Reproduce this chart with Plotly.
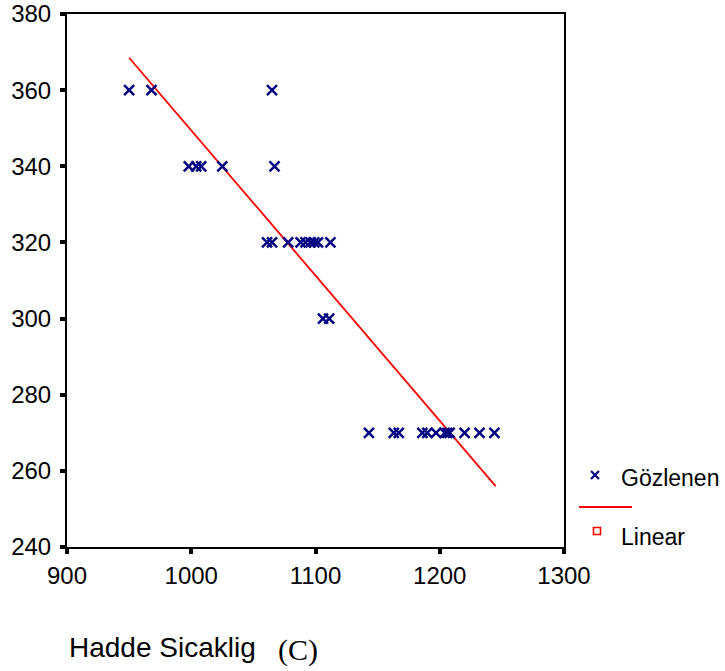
import plotly.graph_objects as go

# Observed data (Gözlenen)
obs_x = [950, 968, 1065,
         998, 1004, 1008, 1025, 1067,
         1061, 1065, 1078, 1088, 1092, 1096, 1099, 1102, 1112,
         1106, 1111,
         1143, 1163, 1167, 1186, 1190, 1197, 1204, 1206, 1208, 1220, 1232, 1244]
obs_y = [360, 360, 360,
         340, 340, 340, 340, 340,
         320, 320, 320, 320, 320, 320, 320, 320, 320,
         300, 300,
         270, 270, 270, 270, 270, 270, 270, 270, 270, 270, 270, 270]

# Linear fit line
fit_x = [950, 1245]
fit_y = [368.5, 256]

x_ticks = [900, 1000, 1100, 1200, 1300]
y_ticks = [240, 260, 280, 300, 320, 340, 360, 380]

W, H = 725, 671
def px(x): return x / W
def py(y): return 1 - y / H

fig = go.Figure()
fig.add_trace(go.Scatter(x=fit_x, y=fit_y, mode="lines",
                         line=dict(color="#ff0000", width=1.8), showlegend=False,
                         hoverinfo="skip"))
fig.add_trace(go.Scatter(x=obs_x, y=obs_y, mode="markers",
                         marker=dict(symbol="x-thin", size=10, color="#000080",
                                     line=dict(color="#000080", width=2.5)),
                         showlegend=False))

# legend glyphs on an overlay pixel axis
fig.add_trace(go.Scatter(x=[595], y=[475], mode="markers", xaxis="x2", yaxis="y2",
                         marker=dict(symbol="x-thin", size=8, color="#000080",
                                     line=dict(color="#000080", width=2.2)),
                         showlegend=False, hoverinfo="skip"))
fig.add_trace(go.Scatter(x=[597], y=[531], mode="markers", xaxis="x2", yaxis="y2",
                         marker=dict(symbol="square-open", size=7, color="#ff0000",
                                     line=dict(color="#ff0000", width=1.6)),
                         showlegend=False, hoverinfo="skip"))

fig.add_shape(type="line", xref="paper", yref="paper",
              x0=px(579), x1=px(632), y0=py(507), y1=py(507),
              line=dict(color="#ff0000", width=1.8))

font_main = "Liberation Sans, Arial, sans-serif"
fig.add_annotation(x=px(619), y=py(478), xref="paper", yref="paper", text="Gözlenen",
                   showarrow=False, xanchor="left", yanchor="middle",
                   font=dict(family=font_main, size=23, color="black"))
fig.add_annotation(x=px(619), y=py(537), xref="paper", yref="paper", text="Linear",
                   showarrow=False, xanchor="left", yanchor="middle",
                   font=dict(family=font_main, size=23, color="black"))
fig.add_annotation(x=px(67), y=py(647), xref="paper", yref="paper", text="Hadde Sicaklig",
                   showarrow=False, xanchor="left", yanchor="middle",
                   font=dict(family=font_main, size=28, color="black"))
fig.add_annotation(x=px(276), y=py(650), xref="paper", yref="paper", text="(C)",
                   showarrow=False, xanchor="left", yanchor="middle",
                   font=dict(family="Liberation Serif, Times New Roman, serif", size=30, color="black"))

fig.update_layout(
    width=W, height=H,
    margin=dict(l=0, r=0, t=0, b=0, pad=0),
    paper_bgcolor="white", plot_bgcolor="rgba(0,0,0,0)",
    xaxis=dict(domain=[px(67), px(564)], range=[900, 1300], tickvals=x_ticks,
               showgrid=False, zeroline=False, showline=True, linewidth=2,
               linecolor="black", mirror=True, ticks="outside", ticklen=5,
               tickwidth=4, tickcolor="black", ticklabelstandoff=1, automargin=False,
               tickfont=dict(family=font_main, size=24, color="black")),
    yaxis=dict(domain=[py(547), py(14)], range=[240, 380], tickvals=y_ticks,
               showgrid=False, zeroline=False, showline=True, linewidth=2,
               linecolor="black", mirror=True, ticks="outside", ticklen=5,
               tickwidth=4, tickcolor="black", ticklabelstandoff=4, automargin=False,
               tickfont=dict(family=font_main, size=24, color="black")),
    xaxis2=dict(domain=[0, 1], range=[0, W], visible=False, anchor="y2",
                automargin=False),
    yaxis2=dict(domain=[0, 1], range=[H, 0], visible=False, anchor="x2",
                automargin=False),
)

fig.write_html("out.html", config={"displayModeBar": False},
               post_script="document.body.style.margin='0';document.body.style.overflow='hidden';")
